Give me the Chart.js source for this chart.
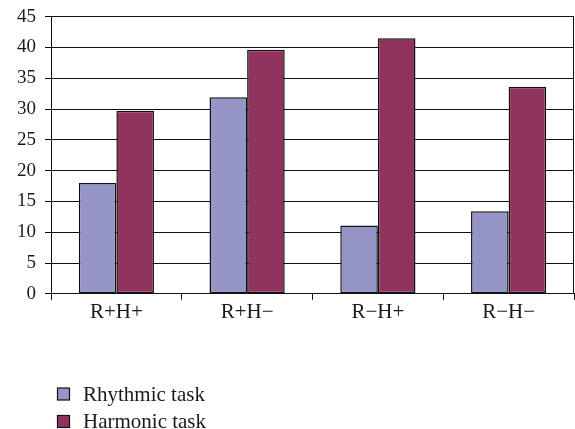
<!DOCTYPE html>
<html><head><meta charset="utf-8">
<script src="https://cdn.jsdelivr.net/npm/chart.js@4/dist/chart.umd.min.js"></script>
<style>
html,body{margin:0;padding:0;background:#fff;}
</style></head>
<body><canvas id="c" width="575" height="429"></canvas>
<script>
const categories = ["R+H+", "R+H\u2212", "R\u2212H+", "R\u2212H\u2212"];
const seriesNames = ["Rhythmic task", "Harmonic task"];
const rhythmic = [18.0, 31.9, 11.1, 13.4];
const harmonic = [29.7, 39.6, 41.5, 33.6];
const yTicks = [0, 5, 10, 15, 20, 25, 30, 35, 40, 45];
const colors = ["#9595C8", "#91335F"];
const FONT = '"Liberation Serif", "Times New Roman", serif';

const boxPlugin = {
  id: 'box',
  afterDraw(chart) {
    const a = chart.chartArea, ctx = chart.ctx;
    ctx.save();
    ctx.strokeStyle = '#111';
    ctx.lineWidth = 1;
    ctx.beginPath();
    ctx.moveTo(Math.round(a.right) - 0.5, a.top);
    ctx.lineTo(Math.round(a.right) - 0.5, a.bottom);
    ctx.stroke();
    // legend (vertical, bottom-left)
    ctx.font = '21px ' + FONT;
    ctx.textBaseline = 'middle';
    ctx.textAlign = 'left';
    chart.data.datasets.forEach((ds, i) => {
      const y = 394 + i * 27.5;
      ctx.fillStyle = ds.backgroundColor;
      ctx.fillRect(57.5, y - 6, 12, 12);
      ctx.strokeStyle = '#111';
      ctx.lineWidth = 1.2;
      ctx.strokeRect(57.5, y - 6, 12, 12);
      ctx.fillStyle = '#1a1a1a';
      ctx.fillText(ds.label, 83, y + 1);
    });
    ctx.restore();
  }
};

new Chart(document.getElementById('c'), {
  type: 'bar',
  data: {
    labels: categories,
    datasets: [
      {label: seriesNames[0], data: rhythmic, backgroundColor: colors[0], borderColor: '#111', borderWidth: 1.5, borderSkipped: false},
      {label: seriesNames[1], data: harmonic, backgroundColor: colors[1], borderColor: '#111', borderWidth: 1.5, borderSkipped: false}
    ]
  },
  options: {
    responsive: false,
    animation: false,
    layout: {padding: {top: 4, right: 1, left: 8, bottom: 104}},
    plugins: {legend: {display: false}, tooltip: {enabled: false}},
    datasets: {bar: {categoryPercentage: 0.575, barPercentage: 1.0}},
    scales: {
      x: {
        grid: {display: true, drawOnChartArea: false, offset: true, color: '#111', tickLength: 6},
        border: {color: '#111'},
        ticks: {color: '#1a1a1a', font: {family: FONT, size: 21}, padding: 0}
      },
      y: {
        min: 0, max: 45,
        afterBuildTicks(scale) { scale.ticks = yTicks.map(v => ({value: v})); },
        grid: {color: '#111', tickLength: 6},
        border: {color: '#111'},
        ticks: {color: '#1a1a1a', font: {family: FONT, size: 19, lineHeight: 0.8}, padding: 9}
      }
    }
  },
  plugins: [boxPlugin]
});
</script></body></html>
